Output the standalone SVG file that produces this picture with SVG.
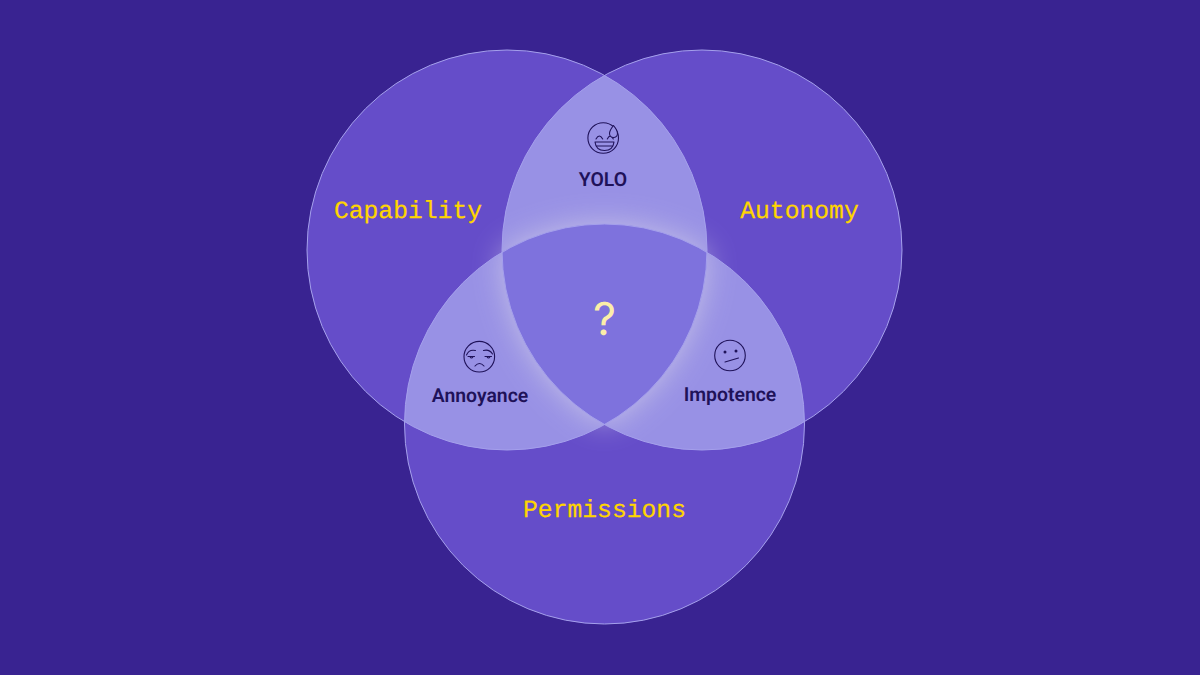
<svg xmlns="http://www.w3.org/2000/svg" width="1200" height="675" viewBox="0 0 1200 675">
<style>
text{text-rendering:geometricPrecision}
.set{fill:#654dc9}
.lens{fill:#9891e5}
.ring{fill:none;stroke:#a5a0ec;stroke-width:1}
.mono{font-family:"Liberation Mono","DejaVu Sans Mono",monospace;font-size:24.7px;fill:#ffd500;text-anchor:middle;stroke:#ffd500;stroke-width:.25}
.lab{font-family:Roboto,"Liberation Sans",sans-serif;font-weight:600;font-size:19.4px;fill:#1f1259;text-anchor:middle}
.em{fill:none;stroke:#1f1259;stroke-width:1.1;stroke-linecap:round;stroke-linejoin:round}
.dot{fill:#1f1259}
.drop{fill:#9891e5;stroke:#1f1259;stroke-width:1.1;stroke-linejoin:round}
</style>
<defs>
<clipPath id="ca"><circle cx="507" cy="250" r="200"/></clipPath>
<clipPath id="cb"><circle cx="702" cy="250" r="200"/></clipPath>
<filter id="blur" x="-40%" y="-40%" width="180%" height="180%"><feGaussianBlur stdDeviation="15"/></filter>
<path id="tri" d="M502 252.3A200 200 0 0 1 707 252.3A200 200 0 0 1 604.5 424.6A200 200 0 0 1 502 252.3Z"/>
</defs>
<rect width="1200" height="675" fill="#392391"/>
<g id="venn">
<circle class="set" cx="507" cy="250" r="200"/>
<circle class="set" cx="702" cy="250" r="200"/>
<circle class="set" cx="604.5" cy="424" r="200"/>
<g clip-path="url(#ca)"><circle class="lens" cx="702" cy="250" r="200"/><circle class="lens" cx="604.5" cy="424" r="200"/></g>
<g clip-path="url(#cb)"><circle class="lens" cx="604.5" cy="424" r="200"/></g>
<use href="#tri" fill="#dfdde8" opacity="0.62" filter="url(#blur)"/>
<use href="#tri" fill="#7e72dd"/>
</g>
<g id="connectors">
<circle class="ring" cx="507" cy="250" r="200"/>
<circle class="ring" cx="702" cy="250" r="200"/>
<circle class="ring" cx="604.5" cy="424" r="200"/>
</g>
<g id="capability"><text class="mono" x="408" y="217.500">Capability</text></g>
<g id="autonomy"><text class="mono" x="799.500" y="217.500">Autonomy</text></g>
<g id="permissions"><text class="mono" x="604.500" y="516.500">Permissions</text></g>
<g id="center"><text x="604.500" y="335" font-family="Inter,Roboto,sans-serif" font-weight="400" font-size="45" fill="#fbeea8" text-anchor="middle">?</text></g>
<g id="yolo">
<circle class="em" cx="603.200" cy="138" r="15.300"/>
<path class="em" d="M596 139q3.300-6 6.700 0M607.300 139q3-6 6 0M595 142h19q-1 8.500-9.500 8.500t-9.500-8.500ZM596.500 146h16"/>
<path class="drop" d="M613.500 125.500q4 5 4 8a4 4 0 0 1-8 0q0-3 4-8Z"/>
<text class="lab" x="603" y="185.500">YOLO</text>
</g>
<g id="annoyance">
<circle class="em" cx="479.300" cy="356.700" r="15.300"/>
<path class="em" d="M466.500 355q2.500-6 9-4.500M483.500 350.500q6-1.500 9 3.500M468 356.500h6.500M485 356.500h6.500M470 356.800q1.500 2.500 3 0M487 356.800q1.500 2.500 3 0M475 366q4.500-5 9 0"/>
<text class="lab" x="480" y="402">Annoyance</text>
</g>
<g id="impotence">
<circle class="em" cx="730" cy="355.500" r="15.300"/>
<circle class="dot" cx="725" cy="352" r="1.500"/><circle class="dot" cx="736" cy="351" r="1.500"/>
<path class="em" d="M725 362l13.500-4"/>
<text class="lab" x="730" y="401">Impotence</text>
</g>
</svg>
